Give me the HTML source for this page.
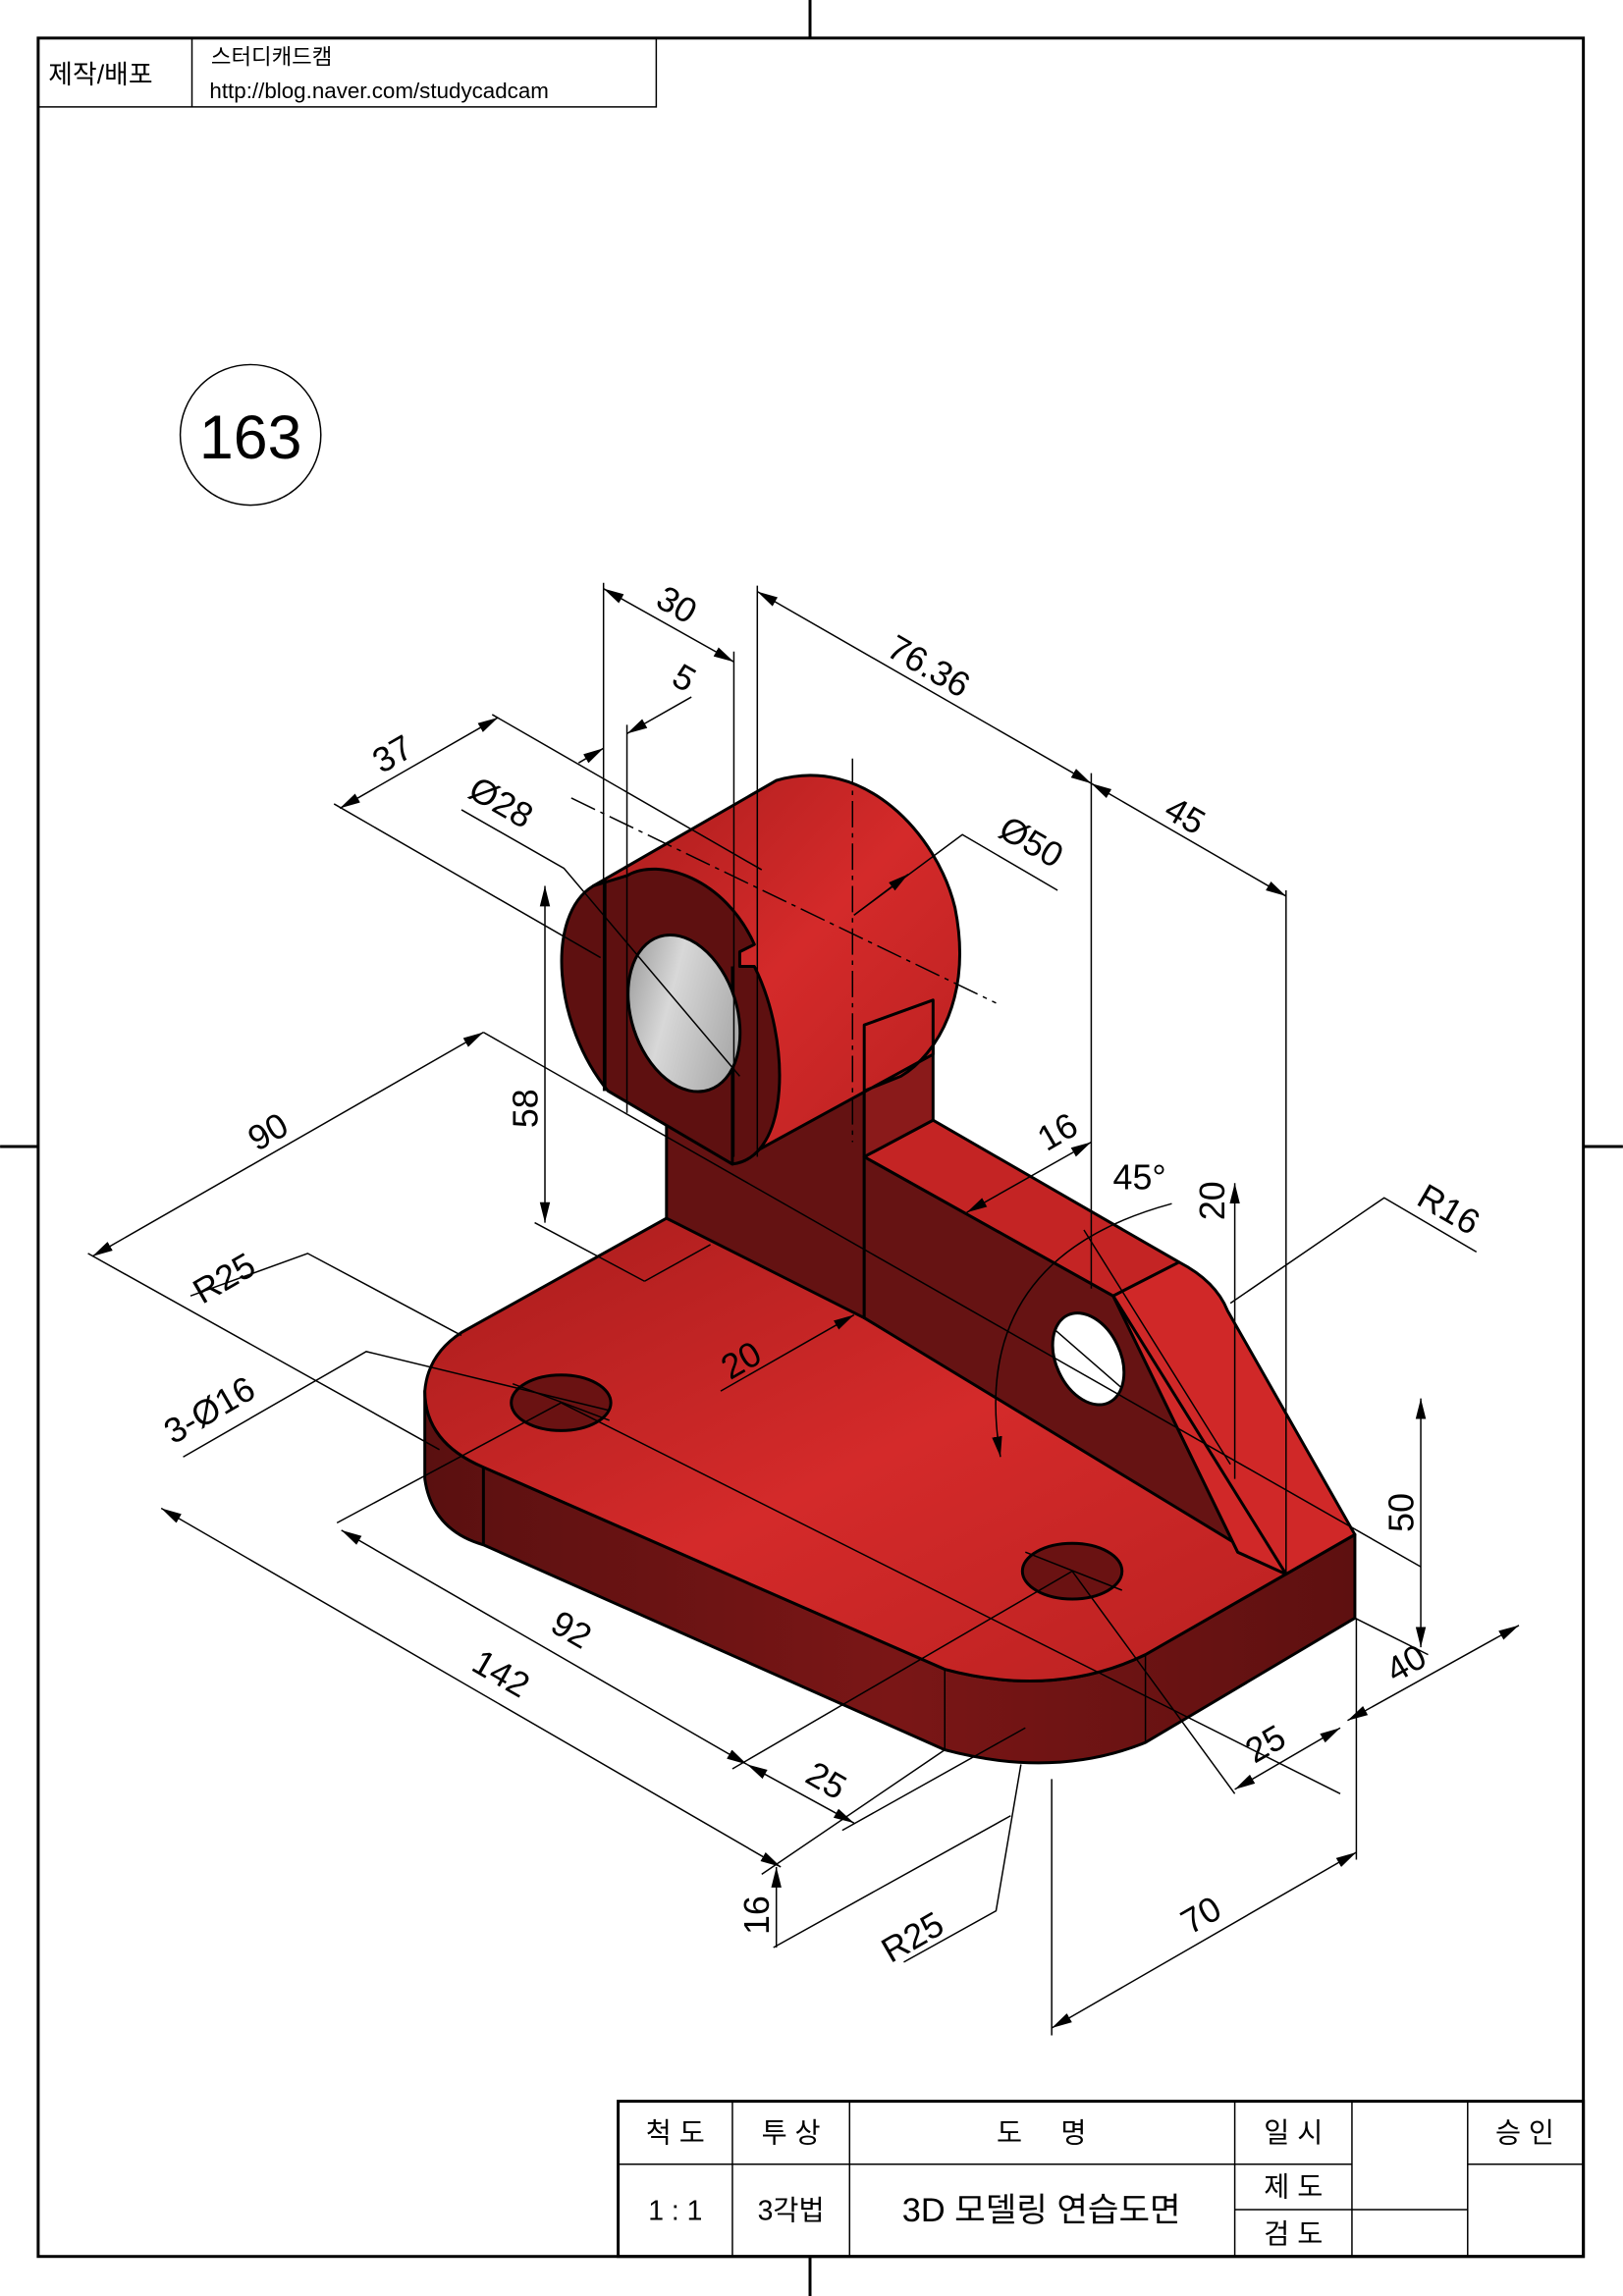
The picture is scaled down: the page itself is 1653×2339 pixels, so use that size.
<!DOCTYPE html>
<html><head><meta charset="utf-8"><style>
html,body{margin:0;padding:0;background:#fff;}
svg{display:block;}
text{font-family:"Liberation Sans","Noto Sans CJK KR",sans-serif;fill:#000;}
</style></head><body>
<svg width="1653" height="2339" viewBox="0 0 1108 1568" xmlns="http://www.w3.org/2000/svg">
<defs>
<linearGradient id="red" x1="0" y1="0" x2="1" y2="1"><stop offset="0" stop-color="#a81c1c"/><stop offset="0.5" stop-color="#d42a2a"/><stop offset="1" stop-color="#b82020"/></linearGradient>
<linearGradient id="dark" x1="0" y1="0" x2="1" y2="0"><stop offset="0" stop-color="#5a1010"/><stop offset="0.5" stop-color="#7a1616"/><stop offset="1" stop-color="#5e1010"/></linearGradient>
<linearGradient id="gray" x1="0" y1="0" x2="1" y2="1"><stop offset="0" stop-color="#888"/><stop offset="0.4" stop-color="#d8d8d8"/><stop offset="1" stop-color="#999"/></linearGradient>
<marker id="a" viewBox="0 0 10 10" refX="10" refY="5" markerWidth="14" markerHeight="14" orient="auto-start-reverse" markerUnits="userSpaceOnUse"><path d="M0,2.5 L10,5 L0,7.5Z" fill="#000"/></marker>
</defs>
<rect x="26" y="26" width="1055" height="1515" fill="none" stroke="#000" stroke-width="2"/>
<g stroke="#000" stroke-width="2"><line x1="553" y1="0" x2="553" y2="26"/><line x1="553" y1="1541" x2="553" y2="1568"/><line x1="0" y1="783" x2="26" y2="783"/><line x1="1081" y1="783" x2="1108" y2="783"/></g>
<rect x="26" y="26" width="422" height="47" fill="none" stroke="#000" stroke-width="1"/>
<line x1="131" y1="26" x2="131" y2="73" stroke="#000" stroke-width="1"/>
<text x="33" y="57" font-size="18">제작/배포</text>
<text x="144" y="44" font-size="15">스터디캐드캠</text>
<text x="143" y="67" font-size="15">http://blog.naver.com/studycadcam</text>
<circle cx="171" cy="297" r="48" fill="none" stroke="#000" stroke-width="1"/>
<text x="171" y="313" font-size="42" text-anchor="middle">163</text>

<g stroke="#000" stroke-width="2" stroke-linejoin="round">
<path d="M290,950 L290,1010 Q295,1045 330,1055 L645,1195 Q720,1215 782,1190 L925,1105 L925,1048 L782,1130 Q720,1160 645,1140 L330,1002 Q290,985 290,950Z" fill="url(#dark)"/>
<line x1="330" y1="1002" x2="330" y2="1055"/><line x1="645" y1="1140" x2="645" y2="1195" stroke-width="1"/><line x1="782" y1="1130" x2="782" y2="1190" stroke-width="1"/>
<path d="M315,910 L455,832 L925,1048 L782,1130 Q720,1160 645,1140 L330,1002 Q290,985 290,950 Q292,925 315,910Z" fill="url(#red)"/>
<ellipse cx="383" cy="958" rx="34" ry="19" fill="#6a1212"/>
<ellipse cx="732" cy="1073" rx="34" ry="19" fill="#6a1212"/>
<path d="M455,760 L590,700 L590,900 L455,832Z" fill="#641212"/>
<path d="M590,790 L760,885 L845,1060 L878,1075 L590,900Z" fill="#661313"/>
<path d="M590,790 L637,765 L805,862 L760,885Z" fill="#c42424"/>
<path d="M760,885 L805,862 Q830,875 838,895 L925,1048 L878,1075 L845,1060Z" fill="#d02828"/>
<line x1="760" y1="885" x2="878" y2="1075"/>
<ellipse cx="743" cy="928" rx="22" ry="33" transform="rotate(-25 743 928)" fill="#fff"/>
<path d="M590,700 L637,683 L637,765 L590,790Z" fill="#8a1a1a"/>
<path d="M405,605 L530,533 C590,515 640,570 652,620 C664,680 640,720 615,735 L590,745 L590,700 L637,683 L637,720 L500,795 L420,745Z" fill="url(#red)"/>
<path d="M405,605 C372,625 378,700 415,745 L500,795 C540,790 540,710 515,660 L505,660 L505,650 L515,645 C495,600 450,585 428,598 Z" fill="#5e1010"/>
<line x1="413" y1="600" x2="413" y2="745"/><line x1="428" y1="598" x2="428" y2="760" stroke-width="1"/>
<line x1="500" y1="795" x2="500" y2="660"/>
<ellipse cx="467" cy="692" rx="36" ry="55" transform="rotate(-18 467 692)" fill="url(#gray)"/>
</g>

<g stroke="#000" stroke-width="1" fill="none">
<line x1="412" y1="398" x2="412" y2="745"/><line x1="501" y1="445" x2="501" y2="790"/>
<line x1="412" y1="402" x2="501" y2="452" marker-start="url(#a)" marker-end="url(#a)"/>
<line x1="428" y1="495" x2="428" y2="600"/>
<line x1="395" y1="521" x2="412" y2="511" marker-end="url(#a)"/><line x1="472" y1="476" x2="428" y2="501" marker-end="url(#a)"/>
<line x1="517" y1="400" x2="517" y2="790"/>
<line x1="517" y1="404" x2="745" y2="535" marker-start="url(#a)" marker-end="url(#a)"/>
<line x1="745" y1="535" x2="878" y2="612" marker-start="url(#a)" marker-end="url(#a)"/>
<line x1="745" y1="528" x2="745" y2="880"/><line x1="878" y1="608" x2="878" y2="1075"/>
<line x1="232" y1="552" x2="340" y2="490" marker-start="url(#a)" marker-end="url(#a)"/>
<line x1="228" y1="549" x2="410" y2="654"/><line x1="336" y1="488" x2="520" y2="594"/>
<polyline points="315,553 385,593 505,735"/>
<polyline points="722,608 657,570 583,625" />
<line x1="583" y1="625" x2="620" y2="597" marker-end="url(#a)"/>
<line x1="390" y1="545" x2="680" y2="685" stroke-dasharray="18,4,3,4"/>
<line x1="582" y1="518" x2="582" y2="780" stroke-dasharray="18,4,3,4"/>
<line x1="372" y1="605" x2="372" y2="835" marker-start="url(#a)" marker-end="url(#a)"/>
<line x1="365" y1="835" x2="440" y2="875"/><line x1="440" y1="875" x2="485" y2="850"/>
<line x1="63" y1="858" x2="330" y2="705" marker-start="url(#a)" marker-end="url(#a)"/>
<line x1="330" y1="705" x2="970" y2="1070"/><line x1="60" y1="856" x2="300" y2="990"/>
<polyline points="130,885 210,856 315,912"/>
<polyline points="125,995 250,923 415,963"/>
<line x1="110" y1="1030" x2="533" y2="1275" marker-start="url(#a)" marker-end="url(#a)"/>
<line x1="233" y1="1045" x2="510" y2="1205" marker-start="url(#a)" marker-end="url(#a)"/>
<line x1="510" y1="1205" x2="583" y2="1245" marker-start="url(#a)" marker-end="url(#a)"/>
<line x1="230" y1="1040" x2="383" y2="958"/><line x1="500" y1="1208" x2="732" y2="1073"/><line x1="575" y1="1250" x2="700" y2="1180"/>
<line x1="383" y1="958" x2="915" y2="1225"/>
<line x1="530" y1="1275" x2="530" y2="1330" marker-start="url(#a)"/>
<line x1="528" y1="1330" x2="690" y2="1240"/><line x1="520" y1="1280" x2="645" y2="1195"/>
<polyline points="617,1340 680,1305 697,1205"/>
<line x1="718" y1="1215" x2="718" y2="1390"/><line x1="926" y1="1105" x2="926" y2="1270"/>
<line x1="718" y1="1385" x2="926" y2="1265" marker-start="url(#a)" marker-end="url(#a)"/>
<line x1="843" y1="1222" x2="915" y2="1180" marker-start="url(#a)" marker-end="url(#a)"/>
<line x1="920" y1="1175" x2="1037" y2="1110" marker-start="url(#a)" marker-end="url(#a)"/>
<line x1="732" y1="1073" x2="843" y2="1225"/>
<line x1="970" y1="955" x2="970" y2="1125" marker-start="url(#a)" marker-end="url(#a)"/>
<line x1="925" y1="1105" x2="975" y2="1130"/>
<polyline points="1008,855 945,818 840,890"/>
<line x1="843" y1="808" x2="843" y2="1010" marker-start="url(#a)"/>
<line x1="660" y1="828" x2="745" y2="780" marker-start="url(#a)" marker-end="url(#a)"/>
<path d="M683,995 Q660,860 800,822" marker-start="url(#a)"/>
<line x1="720" y1="908" x2="766" y2="948"/><line x1="740" y1="840" x2="840" y2="1000" />
<line x1="492" y1="950" x2="583" y2="898" marker-end="url(#a)"/>
<line x1="350" y1="945" x2="416" y2="970"/><line x1="700" y1="1060" x2="766" y2="1086"/>
</g>

<g font-size="24">
<text transform="translate(458,420) rotate(30)" text-anchor="middle">30</text>
<text transform="translate(463,470) rotate(30)" text-anchor="middle">5</text>
<text transform="translate(630,462) rotate(30)" text-anchor="middle">76.36</text>
<text transform="translate(272,522) rotate(-30)" text-anchor="middle">37</text>
<text transform="translate(338,555) rotate(30)" text-anchor="middle">Ø28</text>
<text transform="translate(700,582) rotate(30)" text-anchor="middle">Ø50</text>
<text transform="translate(805,564) rotate(30)" text-anchor="middle">45</text>
<text transform="translate(367,757) rotate(-90)" text-anchor="middle">58</text>
<text transform="translate(187,780) rotate(-30)" text-anchor="middle">90</text>
<text transform="translate(157,880) rotate(-30)" text-anchor="middle">R25</text>
<text transform="translate(147,970) rotate(-30)" text-anchor="middle">3-Ø16</text>
<text transform="translate(726,780) rotate(-30)" text-anchor="middle">16</text>
<text x="778" y="812" text-anchor="middle">45°</text>
<text transform="translate(836,820) rotate(-90)" text-anchor="middle">20</text>
<text transform="translate(985,833) rotate(30)" text-anchor="middle">R16</text>
<text transform="translate(510,936) rotate(-30)" text-anchor="middle">20</text>
<text transform="translate(965,1033) rotate(-90)" text-anchor="middle">50</text>
<text transform="translate(964,1143) rotate(-30)" text-anchor="middle">40</text>
<text transform="translate(386,1120) rotate(30)" text-anchor="middle">92</text>
<text transform="translate(338,1150) rotate(30)" text-anchor="middle">142</text>
<text transform="translate(560,1223) rotate(30)" text-anchor="middle">25</text>
<text transform="translate(868,1198) rotate(-30)" text-anchor="middle">25</text>
<text transform="translate(525,1308) rotate(-90)" text-anchor="middle">16</text>
<text transform="translate(627,1330) rotate(-30)" text-anchor="middle">R25</text>
<text transform="translate(824,1315) rotate(-30)" text-anchor="middle">70</text>
</g>

<g stroke="#000" fill="none">
<rect x="422" y="1435" width="659" height="106" stroke-width="2"/>
<line x1="422" y1="1478" x2="923" y2="1478" stroke-width="1"/>
<line x1="1002" y1="1478" x2="1081" y2="1478" stroke-width="1"/>
<line x1="843" y1="1509" x2="1002" y2="1509" stroke-width="1"/>
<line x1="500" y1="1435" x2="500" y2="1541" stroke-width="1"/>
<line x1="580" y1="1435" x2="580" y2="1541" stroke-width="1"/>
<line x1="843" y1="1435" x2="843" y2="1541" stroke-width="1"/>
<line x1="923" y1="1435" x2="923" y2="1541" stroke-width="1"/>
<line x1="1002" y1="1435" x2="1002" y2="1541" stroke-width="1"/>
</g>
<g font-size="19" text-anchor="middle">
<text x="461" y="1463">척 도</text>
<text x="540" y="1463">투 상</text>
<text x="711" y="1463">도&#160;&#160;&#160;&#160;&#160;명</text>
<text x="883" y="1463">일 시</text>
<text x="1041" y="1463">승 인</text>
<text x="461" y="1516">1 : 1</text>
<text x="540" y="1516">3각법</text>
<text x="711" y="1517" font-size="23">3D 모델링 연습도면</text>
<text x="883" y="1500">제 도</text>
<text x="883" y="1532">검 도</text>
</g>
</svg>
</body></html>
